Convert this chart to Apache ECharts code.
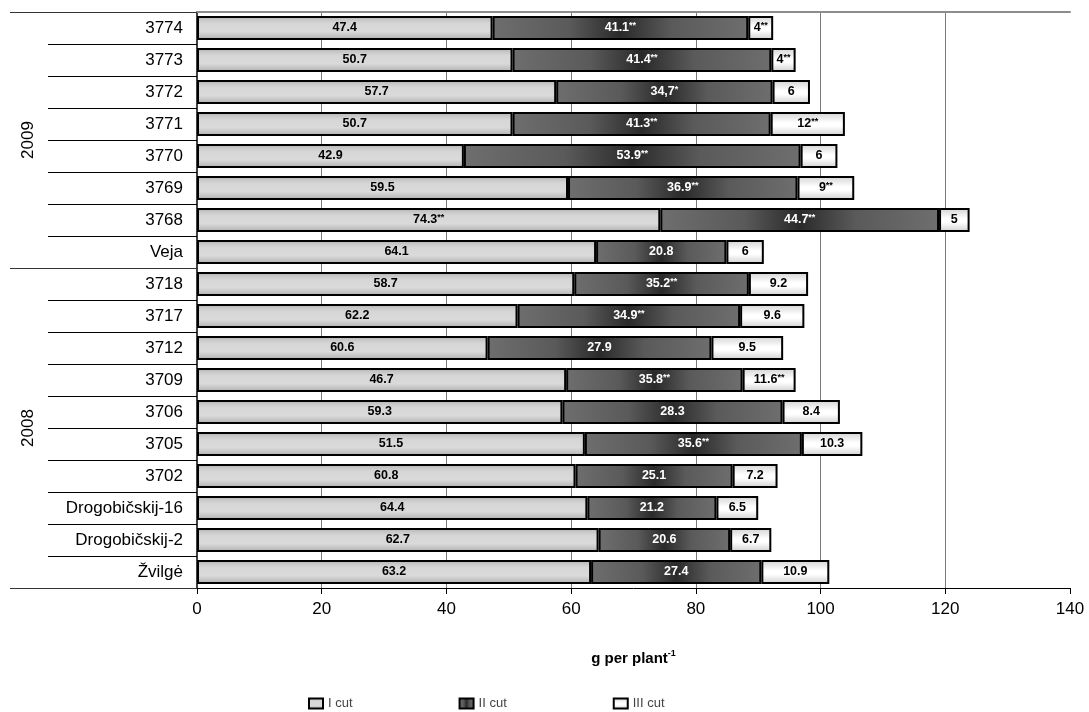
<!DOCTYPE html>
<html>
<head>
<meta charset="utf-8">
<script src="https://cdn.jsdelivr.net/npm/echarts@6/dist/echarts.min.js"></script>
<style>
  html, body { margin: 0; padding: 0; background: #fff; }
  #chart { width: 1089px; height: 712px; }
</style>
</head>
<body>
<div id="chart"></div>
<script>
// rows, top to bottom
var categories = ['3774', '3773', '3772', '3771', '3770', '3769', '3768', 'Veja',
  '3718', '3717', '3712', '3709', '3706', '3705', '3702',
  'Drogobičskij-16', 'Drogobičskij-2', 'Žvilgė'];

// segment lengths as drawn (g per plant)
var cutI = [47.4, 50.6, 57.6, 50.6, 42.8, 59.5, 74.3, 64.0,
  60.5, 51.4, 46.6, 59.2, 58.6, 62.2, 60.7, 62.6, 64.4, 63.2];
var cutII = [41.0, 41.5, 34.7, 41.4, 54.0, 36.8, 44.7, 20.9,
  28.0, 35.7, 35.9, 28.3, 35.3, 34.8, 25.2, 20.7, 21.1, 27.3];
var cutIII = [4.0, 3.9, 6.0, 11.9, 5.9, 9.1, 4.9, 6.0,
  9.5, 10.3, 11.5, 8.5, 9.2, 9.7, 7.2, 6.7, 6.6, 10.9];

// printed labels
var labelsI = ['47.4', '50.7', '57.7', '50.7', '42.9', '59.5', '74.3**', '64.1',
  '58.7', '62.2', '60.6', '46.7', '59.3', '51.5', '60.8', '64.4', '62.7', '63.2'];
var labelsII = ['41.1**', '41.4**', '34,7*', '41.3**', '53.9**', '36.9**', '44.7**', '20.8',
  '35.2**', '34.9**', '27.9', '35.8**', '28.3', '35.6**', '25.1', '21.2', '20.6', '27.4'];
var labelsIII = ['4**', '4**', '6', '12**', '6', '9**', '5', '6',
  '9.2', '9.6', '9.5', '11.6**', '8.4', '10.3', '7.2', '6.5', '6.7', '10.9'];

// year groups on the outer axis (in row units, counted from the bottom)
var groupLabels = ['2008', '2009'];
var groupCenters = [5, 14];
var groupBounds = [0, 10, 18];

var xTicks = [0, 20, 40, 60, 80, 100, 120, 140];

var font = '"Liberation Sans", Arial, sans-serif';

function richLabel(arr) {
  return function (p) {
    var m = arr[p.dataIndex].match(/^([^*]*)(\**)$/);
    return m[2] ? '{n|' + m[1] + '}{s|' + m[2] + '}' : '{n|' + m[1] + '}';
  };
}

function labelStyle(arr, color) {
  return {
    show: true,
    position: 'inside',
    formatter: richLabel(arr),
    rich: {
      n: { fontFamily: font, fontSize: 12.5, fontWeight: 'bold', color: color, lineHeight: 14 },
      s: { fontFamily: font, fontSize: 9, fontWeight: 'bold', color: color, verticalAlign: 'top', lineHeight: 10 }
    }
  };
}

var chart = echarts.init(document.getElementById('chart'));

var options = {
  animation: false,
  textStyle: { fontFamily: font },
  grid: { left: 197, right: 19, top: 12, bottom: 124, containLabel: false },
  legend: {
    data: ['I cut', 'II cut', 'III cut'],
    left: 303,
    top: 692,
    icon: 'rect',
    itemWidth: 14,
    itemHeight: 10,
    itemGap: 106,
    textStyle: { fontFamily: font, fontSize: 13, color: '#444' }
  },
  xAxis: [{
    type: 'value',
    min: 0,
    max: 140,
    interval: 20,
    position: 'bottom',
    name: '{a|g per plant}{b|-1}',
    nameLocation: 'middle',
    nameGap: 61,
    nameTextStyle: {
      rich: {
        a: { fontFamily: font, fontSize: 15, fontWeight: 'bold', color: '#000', lineHeight: 20 },
        b: { fontFamily: font, fontSize: 9, fontWeight: 'bold', color: '#000', verticalAlign: 'top', lineHeight: 12 }
      }
    },
    axisLine: { show: true, lineStyle: { color: '#000', width: 1 } },
    axisTick: { show: true, length: 6, lineStyle: { color: '#000' } },
    axisLabel: {
      fontSize: 17, color: '#000', margin: 13,
      customValues: xTicks
    },
    splitLine: { show: true, showMinLine: false, showMaxLine: false, lineStyle: { color: '#7a7a7a', width: 1 } }
  }, {
    type: 'value',
    min: 0,
    max: 140,
    position: 'top',
    axisLine: { show: true, lineStyle: { color: '#8c8c8c', width: 2 } },
    axisTick: { show: false },
    axisLabel: { show: false },
    splitLine: { show: false }
  }],
  yAxis: [{
    type: 'category',
    data: categories,
    inverse: true,
    position: 'left',
    axisLine: { show: true, lineStyle: { color: '#000', width: 1.5 } },
    axisTick: { show: true, length: 149, alignWithLabel: false, lineStyle: { color: '#000', width: 1 } },
    axisLabel: { fontSize: 17, color: '#000', margin: 14 }
  }, {
    type: 'value',
    min: 0,
    max: 18,
    position: 'left',
    axisLine: { show: false },
    axisTick: {
      show: true, length: 187, customValues: groupBounds,
      lineStyle: { color: '#333', width: 1 }
    },
    axisLabel: {
      show: true, rotate: 90, margin: 160, fontSize: 17, color: '#000',
      customValues: groupCenters,
      formatter: function (v) { return groupLabels[groupCenters.indexOf(v)]; }
    },
    splitLine: { show: false }
  }],
  series: [{
    name: 'I cut',
    type: 'bar',
    stack: 'total',
    barWidth: 24,
    data: cutI,
    itemStyle: {
      borderColor: '#000', borderWidth: 2,
      color: new echarts.graphic.LinearGradient(0, 0, 0, 1, [
        { offset: 0, color: '#b4b4b4' },
        { offset: 0.3, color: '#d6d6d6' },
        { offset: 0.65, color: '#dadada' },
        { offset: 1, color: '#b0b0b0' }
      ])
    },
    label: labelStyle(labelsI, '#000')
  }, {
    name: 'II cut',
    type: 'bar',
    stack: 'total',
    data: cutII,
    itemStyle: {
      borderColor: '#000', borderWidth: 2,
      color: new echarts.graphic.LinearGradient(0, 0, 1, 0, [
        { offset: 0, color: '#6e6e6e' },
        { offset: 0.3, color: '#5a5a5a' },
        { offset: 0.5, color: '#2a2a2a' },
        { offset: 0.7, color: '#5a5a5a' },
        { offset: 1, color: '#6e6e6e' }
      ])
    },
    label: labelStyle(labelsII, '#fff')
  }, {
    name: 'III cut',
    type: 'bar',
    stack: 'total',
    data: cutIII,
    itemStyle: {
      borderColor: '#000', borderWidth: 2,
      color: new echarts.graphic.LinearGradient(0, 0, 0, 1, [
        { offset: 0, color: '#d2d2d2' },
        { offset: 0.45, color: '#ffffff' },
        { offset: 0.6, color: '#ffffff' },
        { offset: 1, color: '#cfcfcf' }
      ])
    },
    label: labelStyle(labelsIII, '#000')
  }]
};

chart.setOption(options);
</script>
</body>
</html>
